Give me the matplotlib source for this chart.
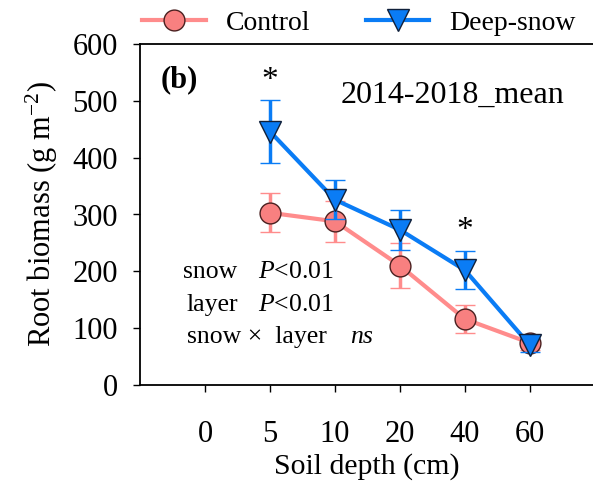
import matplotlib
matplotlib.use("Agg")
import matplotlib.pyplot as plt
from matplotlib.lines import Line2D

plt.rcParams['font.family'] = ['Liberation Serif', 'DejaVu Serif']
plt.rcParams['mathtext.fontset'] = 'custom'
plt.rcParams['mathtext.rm'] = 'Liberation Serif'
plt.rcParams['mathtext.it'] = 'Liberation Serif:italic'

# ------------------------------------------------------------------
# Data
# ------------------------------------------------------------------
depth_labels = ["0", "5", "10", "20", "40", "60"]
depth_pos = [0, 1, 2, 3, 4]            # positions of 5..60 cm
control_mean = [303, 288, 210, 116, 74]
control_err = [34, 36, 40, 25, 12]
snow_mean = [446, 326, 273, 202, 70]
snow_err = [55, 34, 35, 33, 12]
star_pos = [0, 3]
star_y = [535, 272]

pink = '#F88080'
pink_line = '#FF8C8C'
blue = '#0A7CF5'

fig = plt.figure(figsize=(5.93, 4.84), dpi=100)
ax = fig.add_axes([140 / 593, 99 / 484, 1 - 140 / 593, 341 / 484])

ctrl_style = dict(color=pink_line, lw=3, marker='o', ms=15,
                  mfc=pink, mec='#4a2020', mew=1.0)
snow_style = dict(color=blue, lw=3, marker='v', ms=16,
                  mfc=blue, mec='#10203a', mew=1.0)

ax.errorbar(depth_pos, control_mean, yerr=control_err, ecolor=pink_line,
            elinewidth=2.5, capsize=7, capthick=2.5, zorder=2, **ctrl_style)
ax.errorbar(depth_pos, snow_mean, yerr=snow_err, ecolor=blue,
            elinewidth=2.5, capsize=7, capthick=2.5, zorder=3, **snow_style)

for p, y in zip(star_pos, star_y):
    ax.text(p, y, "*", ha='center', va='center', fontsize=24)

ax.set_xlim(-2, 4.97)
ax.set_ylim(0, 600)
ax.set_xticks(range(-1, 5))
ax.set_xticklabels(depth_labels)
ax.set_yticks(range(0, 601, 100))
ax.tick_params(axis='both', labelsize=22, direction='out', length=5, width=1)
ax.tick_params(axis='x', pad=20)
ax.tick_params(axis='y', pad=11)
ax.spines['right'].set_visible(False)
for s in ['left', 'bottom', 'top']:
    ax.spines[s].set_linewidth(1.3)

ax.set_xlabel("Soil depth (cm)", fontsize=21.5, labelpad=3)
ax.set_ylabel("Root biomass (g m$^{-2}$)", fontsize=22, labelpad=9)

ax.text(-1.69, 537, "(b)", fontsize=22, fontweight='bold', va='center')
ax.text(1.08, 510, "2014-2018_mean", fontsize=23, va='center')

ax.text(-1.34, 199, "snow", fontsize=18.5, va='center')
ax.text(-0.185, 199, "$P$<0.01", fontsize=18.5, va='center')
ax.text(-1.28, 141, "layer", fontsize=18.5, va='center')
ax.text(-0.185, 141, "$P$<0.01", fontsize=18.5, va='center')
ax.text(-1.28, 85, "snow \u00d7  layer", fontsize=18.5, va='center')
ax.text(1.23, 85, "ns", fontsize=18.5, va='center', style='italic')

handles = [Line2D([], [], **ctrl_style), Line2D([], [], **snow_style)]
fig.legend(handles, ['Control', 'Deep-snow'], loc='upper center',
           bbox_to_anchor=(0.605, 1.03), ncol=2, frameon=False, fontsize=20,
           handlelength=2.3, columnspacing=2.0, handletextpad=0.7)

fig.savefig("out.png", dpi=100)
